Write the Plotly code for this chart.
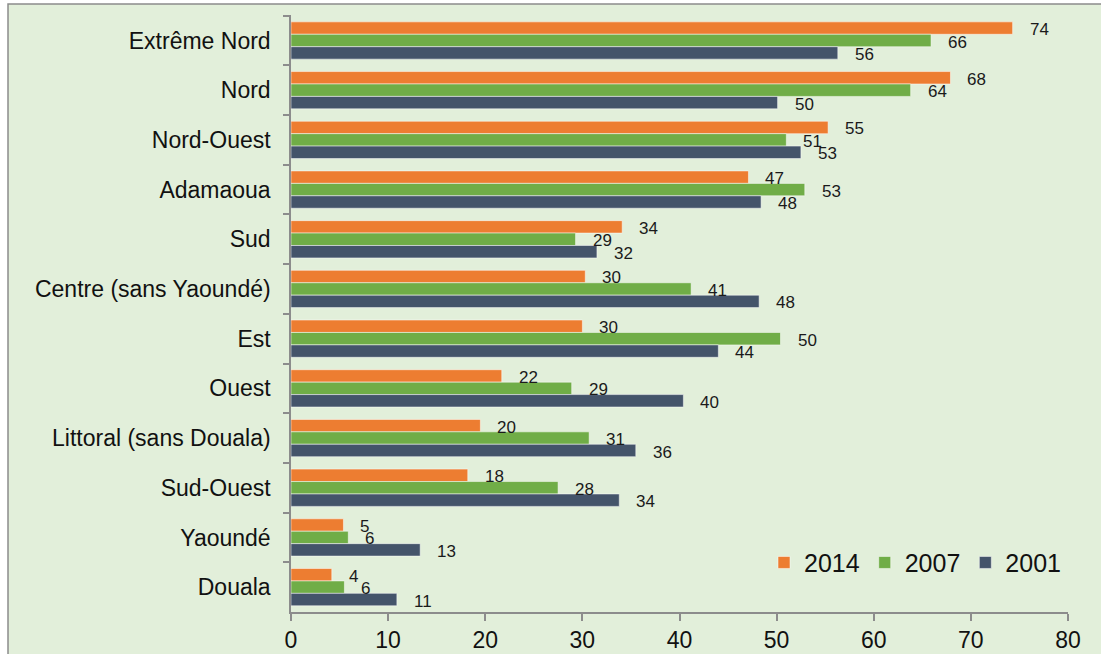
import plotly.graph_objects as go

regions = ["Extrême Nord", "Nord", "Nord-Ouest", "Adamaoua", "Sud",
           "Centre (sans Yaoundé)", "Est", "Ouest", "Littoral (sans Douala)",
           "Sud-Ouest", "Yaoundé", "Douala"]

v2014 = [74.3, 67.9, 55.3, 47.1, 34.1, 30.3, 30.0, 21.7, 19.5, 18.2, 5.4, 4.2]
v2007 = [65.9, 63.8, 51.0, 52.9, 29.3, 41.2, 50.4, 28.9, 30.7, 27.5, 5.9, 5.5]
v2001 = [56.3, 50.1, 52.5, 48.4, 31.5, 48.2, 44.0, 40.4, 35.5, 33.8, 13.3, 10.9]

l2014 = [74, 68, 55, 47, 34, 30, 30, 22, 20, 18, 5, 4]
l2007 = [66, 64, 51, 53, 29, 41, 50, 29, 31, 28, 6, 6]
l2001 = [56, 50, 53, 48, 32, 48, 44, 40, 36, 34, 13, 11]

series = [
    ("2014", v2014, l2014, "#ED7D31", 11),
    ("2007", v2007, l2007, "#70AD47", -1.5),
    ("2001", v2001, l2001, "#44546A", -14),
]

BG = "#E2EFDA"
GREY = "#8C8C8C"
FONT = "Liberation Sans, Arial, sans-serif"

fig = go.Figure()
annotations = []
for name, vals, labs, color, ys in series:
    fig.add_trace(go.Bar(
        y=regions, x=vals, name=name, orientation="h",
        marker=dict(color=color, line=dict(color="rgba(255,255,255,0.5)", width=1)),
        hoverinfo="x+y+name",
    ))
    for r, v, t in zip(regions, vals, labs):
        annotations.append(dict(
            x=v, y=r, xref="x", yref="y", text=str(t), showarrow=False,
            xanchor="left", yanchor="middle", xshift=15, yshift=ys,
            font=dict(family=FONT, size=17, color="#1a1a1a"),
        ))

W, H = 1101, 654
ml, mr, mt, mb = 291, 33, 15, 42
pw, ph = W - ml - mr, H - mt - mb

fig.update_layout(
    width=W, height=H,
    margin=dict(l=ml, r=mr, t=mt, b=mb, pad=0, autoexpand=False),
    paper_bgcolor="white",
    plot_bgcolor=BG,
    barmode="group",
    bargap=0.25,
    bargroupgap=0,
    font=dict(family=FONT, color="#111111"),
    annotations=annotations,
    legend=dict(
        orientation="h", x=(1066 - ml) / pw, xanchor="right",
        y=(ph + mt - 562.7) / ph, yanchor="middle",
        font=dict(size=25, color="#111111"),
        bgcolor="rgba(0,0,0,0)", traceorder="normal",
        itemwidth=30,
    ),
    shapes=[dict(
        type="rect", xref="paper", yref="paper", layer="below",
        x0=(8 - ml) / pw, x1=(W + 30 - ml) / pw,
        y0=(ph + mt - (H + 30)) / ph, y1=(ph + mt - 4) / ph,
        fillcolor=BG, line=dict(color=GREY, width=1.5),
    )],
)

fig.update_xaxes(
    range=[0, 80], dtick=10, tick0=0,
    showgrid=False, zeroline=False,
    showline=True, linecolor=GREY, linewidth=1.5,
    ticks="outside", ticklen=7, tickcolor=GREY, tickwidth=1.5,
    tickfont=dict(size=23, color="#111111"),
)
fig.update_yaxes(
    type="category", categoryorder="array", categoryarray=regions,
    autorange="reversed",
    showgrid=False, zeroline=False,
    showline=True, linecolor=GREY, linewidth=1.5,
    ticks="outside", ticklen=6, tickcolor=GREY, tickwidth=1.5,
    tickson="boundaries",
    ticklabelstandoff=14,
    tickfont=dict(size=23, color="#111111"),
)

fig.write_html(
    "out.html",
    config={"displayModeBar": False},
    post_script="document.body.style.margin='0';document.body.style.padding='0';",
)
